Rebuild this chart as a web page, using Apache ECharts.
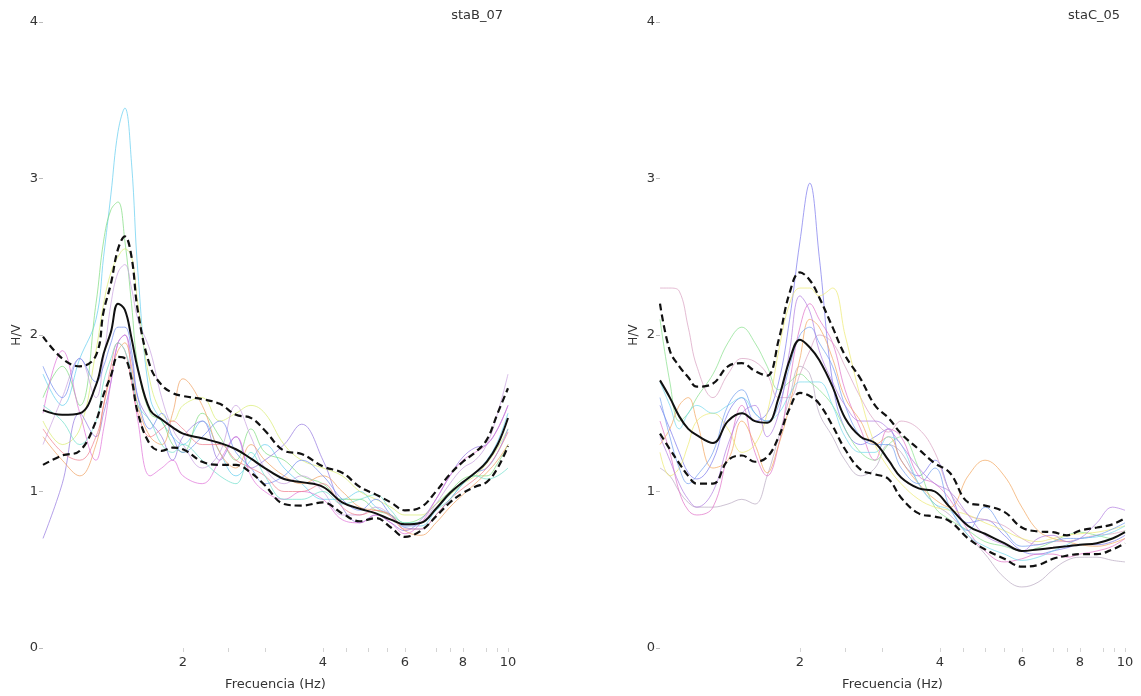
<!DOCTYPE html>
<html>
<head>
<meta charset="utf-8">
<script src="https://cdn.jsdelivr.net/npm/echarts@6/dist/echarts.min.js"></script>
<style>
html,body{margin:0;padding:0;background:#fff;}
#chart{width:1141px;height:696px;}
</style>
</head>
<body>
<div id="chart"></div>
<script>
// ---------- Data ----------
const titleB = 'staB_07';
const titleC = 'staC_05';
const xTickLabels = [2, 4, 6, 8, 10];
const xMinorTicks = [2, 2.5, 3, 4, 4.5, 5, 5.5, 6, 7, 7.5, 8, 9, 9.5, 10];
const yTicks = [0, 1, 2, 3, 4];

// Station B
const freqB = [1.0,1.1,1.2,1.3,1.35,1.4,1.45,1.5,1.55,1.6,1.7,1.8,1.9,2.0,2.2,2.4,2.6,2.8,3.0,3.3,3.6,4.0,4.4,4.8,5.2,5.6,6.0,6.5,7.0,7.5,8.0,8.5,9.0,9.5,10];
const meanB  = [1.52,1.49,1.50,1.68,1.88,2.02,2.20,2.16,1.98,1.78,1.52,1.46,1.41,1.37,1.34,1.31,1.27,1.21,1.15,1.08,1.06,1.03,0.93,0.89,0.86,0.82,0.79,0.80,0.89,0.99,1.06,1.12,1.19,1.30,1.47];
const upperB = [1.99,1.85,1.80,1.87,2.15,2.33,2.55,2.63,2.50,2.15,1.80,1.68,1.63,1.61,1.59,1.56,1.49,1.47,1.39,1.26,1.24,1.16,1.12,1.03,0.98,0.93,0.88,0.90,1.00,1.11,1.19,1.25,1.33,1.50,1.66];
const lowerB = [1.17,1.23,1.26,1.45,1.62,1.74,1.86,1.85,1.72,1.50,1.30,1.26,1.28,1.27,1.19,1.17,1.17,1.12,1.04,0.92,0.91,0.93,0.86,0.81,0.83,0.77,0.71,0.75,0.84,0.93,0.99,1.03,1.06,1.15,1.29];
const winB1  = [1.75,1.55,1.85,2.10,2.50,2.90,3.30,3.45,3.10,2.40,1.60,1.45,1.35,1.30,1.45,1.25,1.10,1.20,1.30,1.15,1.05,0.95,0.95,1.00,0.90,0.85,0.78,0.78,0.88,0.98,1.05,1.12,1.20,1.32,1.50];
const winB2  = [1.60,1.80,1.55,2.20,2.60,2.80,2.85,2.60,2.20,1.80,1.50,1.45,1.30,1.25,1.50,1.35,1.20,1.40,1.25,1.20,1.10,1.05,0.95,0.95,0.88,0.85,0.80,0.83,0.92,1.00,1.08,1.10,1.10,1.18,1.30];
const winB3  = [1.45,1.30,1.40,1.90,2.20,2.40,2.50,2.55,2.50,2.20,1.70,1.50,1.45,1.55,1.60,1.45,1.50,1.55,1.50,1.30,1.20,1.15,1.10,1.00,0.95,0.90,0.85,0.85,0.92,0.98,1.05,1.10,1.18,1.28,1.40];
const winB4  = [1.30,1.60,1.85,1.60,1.85,2.20,2.40,2.45,2.30,2.10,1.90,1.60,1.40,1.30,1.15,1.25,1.55,1.35,1.15,1.05,1.10,1.00,0.85,0.85,0.90,0.85,0.78,0.80,0.92,1.05,1.15,1.20,1.30,1.50,1.75];
const winB5  = [0.70,1.05,1.50,1.35,1.50,1.70,1.95,2.00,1.85,1.60,1.45,1.35,1.20,1.35,1.45,1.20,1.35,1.15,1.20,1.30,1.43,1.20,0.90,0.80,0.85,0.80,0.75,0.82,0.95,1.10,1.22,1.28,1.30,1.40,1.55];
const winB6  = [1.50,1.90,1.50,1.20,1.40,1.70,1.95,2.00,1.75,1.45,1.10,1.15,1.20,1.10,1.05,1.20,1.35,1.10,1.00,0.95,1.00,0.95,0.82,0.80,0.85,0.80,0.73,0.80,0.95,1.10,1.20,1.25,1.30,1.40,1.55];
const winB7  = [1.35,1.20,1.10,1.30,1.55,1.75,1.90,1.95,1.80,1.55,1.35,1.30,1.50,1.72,1.55,1.25,1.15,1.30,1.20,1.10,1.05,1.10,1.00,0.90,0.88,0.85,0.75,0.72,0.80,0.90,0.98,1.05,1.12,1.20,1.30];
const winB8  = [1.80,1.60,1.85,1.70,1.80,1.95,2.05,2.05,1.90,1.60,1.40,1.50,1.35,1.25,1.35,1.45,1.25,1.15,1.05,1.10,1.20,1.10,0.95,0.88,0.95,0.85,0.77,0.76,0.85,0.95,1.05,1.12,1.15,1.25,1.40];
const winB9  = [1.40,1.25,1.20,1.35,1.55,1.80,1.95,1.90,1.70,1.50,1.35,1.40,1.45,1.40,1.30,1.30,1.20,1.15,1.10,1.00,1.00,1.05,0.90,0.85,0.88,0.84,0.76,0.76,0.85,0.95,1.02,1.08,1.15,1.25,1.38];
const winB10 = [1.55,1.45,1.30,1.45,1.70,1.85,1.95,1.90,1.75,1.55,1.45,1.30,1.25,1.30,1.20,1.10,1.05,1.25,1.10,0.95,0.95,1.00,0.92,0.95,0.98,0.88,0.80,0.80,0.88,0.95,1.05,1.10,1.08,1.10,1.15];

// Station C
const freqC = [1.0,1.05,1.1,1.15,1.2,1.3,1.4,1.5,1.6,1.7,1.8,1.9,2.0,2.1,2.2,2.35,2.5,2.7,2.9,3.1,3.3,3.6,3.9,4.2,4.6,5.0,5.5,6.0,6.5,7.0,7.5,8.0,8.7,9.4,10];
const meanC  = [1.71,1.60,1.48,1.40,1.36,1.31,1.45,1.50,1.45,1.44,1.60,1.84,1.97,1.92,1.84,1.67,1.47,1.35,1.31,1.20,1.09,1.02,1.00,0.90,0.78,0.73,0.67,0.62,0.63,0.64,0.65,0.66,0.67,0.70,0.74];
const upperC = [2.20,1.90,1.80,1.73,1.67,1.69,1.80,1.82,1.77,1.74,1.97,2.27,2.40,2.35,2.24,2.05,1.87,1.72,1.55,1.47,1.37,1.27,1.18,1.12,0.93,0.91,0.87,0.77,0.745,0.74,0.72,0.75,0.77,0.79,0.83];
const lowerC = [1.37,1.27,1.18,1.10,1.05,1.05,1.20,1.23,1.19,1.22,1.35,1.53,1.63,1.61,1.56,1.42,1.27,1.14,1.11,1.08,0.96,0.86,0.84,0.81,0.70,0.63,0.57,0.52,0.53,0.57,0.59,0.60,0.60,0.63,0.67];
const winC1  = [1.55,1.40,1.25,1.12,1.08,1.20,1.50,1.60,1.45,1.50,1.70,2.10,2.60,2.97,2.50,1.70,1.40,1.30,1.35,1.40,1.20,1.10,1.20,1.00,0.80,0.82,0.72,0.62,0.60,0.62,0.64,0.66,0.66,0.68,0.72];
const winC2  = [2.30,2.30,2.28,2.05,1.80,1.60,1.75,1.85,1.83,1.75,1.60,1.60,1.75,1.90,2.00,1.95,1.80,1.60,1.45,1.38,1.45,1.40,1.25,1.00,0.85,0.82,0.78,0.70,0.66,0.68,0.68,0.70,0.72,0.73,0.75];
const winC3  = [1.15,1.10,1.00,0.93,0.90,0.90,0.92,0.95,0.92,1.10,1.35,1.60,1.80,1.75,1.50,1.35,1.20,1.10,1.15,1.30,1.25,1.05,0.92,0.85,0.72,0.60,0.45,0.39,0.42,0.50,0.56,0.58,0.58,0.56,0.55];
const winC4  = [2.10,1.70,1.45,1.50,1.60,1.75,1.95,2.05,1.95,1.80,1.65,1.70,1.75,1.70,1.65,1.55,1.40,1.25,1.20,1.30,1.35,1.15,0.90,0.82,0.75,0.68,0.65,0.62,0.64,0.68,0.72,0.74,0.72,0.70,0.75];
const winC5  = [1.45,1.25,1.00,0.88,0.85,0.90,1.25,1.55,1.25,1.10,1.30,1.70,2.05,2.20,2.10,1.95,1.65,1.40,1.20,1.40,1.35,1.10,1.05,0.95,0.75,0.62,0.55,0.57,0.60,0.60,0.58,0.60,0.62,0.65,0.70];
const winC6  = [1.30,1.40,1.55,1.60,1.45,1.15,1.20,1.45,1.30,1.12,1.30,1.55,1.85,2.10,2.05,1.85,1.60,1.45,1.30,1.35,1.20,1.05,0.95,0.90,1.10,1.20,1.10,0.90,0.75,0.70,0.68,0.66,0.65,0.67,0.70];
const winC7  = [1.25,1.10,1.15,1.30,1.45,1.50,1.40,1.25,1.30,1.50,1.90,2.20,2.30,2.30,2.25,2.30,2.00,1.60,1.30,1.15,1.05,0.95,0.90,0.88,0.85,0.80,0.75,0.70,0.68,0.70,0.72,0.73,0.74,0.76,0.78];
const winC8  = [1.70,1.55,1.40,1.50,1.55,1.50,1.55,1.60,1.50,1.45,1.50,1.62,1.70,1.70,1.70,1.55,1.35,1.25,1.25,1.35,1.30,1.05,0.92,0.88,0.72,0.65,0.60,0.56,0.58,0.62,0.66,0.70,0.71,0.74,0.78];
const winC9  = [1.60,1.35,1.15,1.05,1.10,1.25,1.55,1.65,1.50,1.45,1.55,1.80,2.00,2.05,1.95,1.80,1.55,1.35,1.30,1.30,1.15,1.05,1.15,0.90,0.75,0.90,0.75,0.65,0.66,0.68,0.70,0.70,0.72,0.76,0.80];
const winC10 = [1.35,1.20,1.05,0.95,0.90,1.00,1.30,1.50,1.55,1.35,1.50,1.90,2.25,2.15,1.90,1.70,1.55,1.45,1.45,1.40,1.30,1.15,1.05,1.00,0.85,0.72,0.66,0.62,0.70,0.72,0.68,0.70,0.80,0.90,0.88];

const winColors = ['#62cdf0','#7edc7e','#d8ec70','#c8a0e0','#9478e0','#e070d8','#f0a060','#6f8cf0','#f07c8c','#6fe0cc'];
const winColorsC = ['#7a78ec','#d8a0c0','#b8a8c0','#86e08a','#e070c8','#f2a55c','#ecea70','#74d8ec','#6f9cf0','#b07ce0'];

// ---------- Build ----------
const pair = (fs, vs) => fs.map((f, i) => [f, vs[i]]);
const winsB = [winB1,winB2,winB3,winB4,winB5,winB6,winB7,winB8,winB9,winB10];
const winsC = [winC1,winC2,winC3,winC4,winC5,winC6,winC7,winC8,winC9,winC10];

const font = 'DejaVu Sans';
function xAx(idx){
  return {
    type:'log', logBase:10, gridIndex:idx, min:1, max:10,
    name:'Frecuencia (Hz)', nameLocation:'middle', nameGap:30,
    nameTextStyle:{fontFamily:font, fontSize:13, color:'#333'},
    axisLine:{show:false},
    axisTick:{show:true, customValues:xMinorTicks, length:4, lineStyle:{color:'#d4d4d4'}},
    axisLabel:{customValues:xTickLabels, fontFamily:font, fontSize:13, color:'#333', margin:8},
    splitLine:{show:false}, minorSplitLine:{show:false}
  };
}
function yAx(idx){
  return {
    type:'value', gridIndex:idx, min:0, max:4, interval:1,
    name:'H/V', nameLocation:'middle', nameGap:20, nameRotate:90,
    nameTextStyle:{fontFamily:font, fontSize:12, color:'#333'},
    axisLine:{show:false},
    axisTick:{show:true, length:4, lineStyle:{color:'#bbb'}},
    axisLabel:{fontFamily:font, fontSize:13, color:'#333', margin:5},
    splitLine:{show:false}
  };
}
const series = [];
function addPanel(idx, freq, wins, colors, mean, up, lo){
  wins.forEach((w, i) => series.push({
    type:'line', xAxisIndex:idx, yAxisIndex:idx, data:pair(freq, w), smooth:0.4,
    showSymbol:false, silent:true,
    lineStyle:{width:1, color:colors[i], opacity:0.7}
  }));
  [up, lo].forEach(d => series.push({
    type:'line', xAxisIndex:idx, yAxisIndex:idx, data:pair(freq, d), smooth:0.4,
    showSymbol:false, silent:true,
    lineStyle:{width:2.2, color:'#111', type:[7,4]}
  }));
  series.push({
    type:'line', xAxisIndex:idx, yAxisIndex:idx, data:pair(freq, mean), smooth:0.4,
    showSymbol:false, silent:true,
    lineStyle:{width:2, color:'#111'}
  });
}
addPanel(0, freqB, winsB, winColors, meanB, upperB, lowerB);
addPanel(1, freqC, winsC, winColorsC, meanC, upperC, lowerC);

const chart = echarts.init(document.getElementById('chart'), null, {renderer:'canvas'});
chart.setOption({
  animation:false,
  backgroundColor:'#fff',
  title:[
    {text:titleB, right:633, top:4, textStyle:{fontFamily:font, fontSize:13, fontWeight:'normal', color:'#333'}},
    {text:titleC, right:16, top:4, textStyle:{fontFamily:font, fontSize:13, fontWeight:'normal', color:'#333'}}
  ],
  grid:[
    {left:43, right:633, top:22, bottom:48},
    {left:660, right:16, top:22, bottom:48}
  ],
  xAxis:[xAx(0), xAx(1)],
  yAxis:[yAx(0), yAx(1)],
  series:series
});
</script>
</body>
</html>
